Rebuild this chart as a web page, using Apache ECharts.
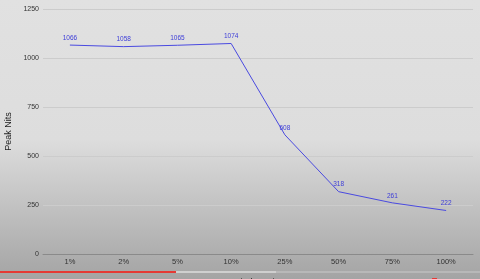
<!DOCTYPE html>
<html><head><meta charset="utf-8">
<script src="https://cdn.jsdelivr.net/npm/echarts@6/dist/echarts.min.js"></script>
<style>html,body{margin:0;padding:0;}#c{width:480px;height:279px;}</style>
</head><body><div id="c"></div>
<script>
const categories = ['1%', '2%', '5%', '10%', '25%', '50%', '75%', '100%'];
const peakNits = [1066, 1058, 1065, 1074, 608, 318, 261, 222];
const yTicks = [0, 250, 500, 750, 1000, 1250];

const FONT = 'Liberation Sans, Arial, sans-serif';
const chart = echarts.init(document.getElementById('c'));
chart.setOption({
  animation: false,
  backgroundColor: new echarts.graphic.LinearGradient(0, 0, 0, 1, [
    {offset: 0, color: '#e1e1e1'},
    {offset: 0.5, color: '#dddddd'},
    {offset: 1, color: '#a4a4a4'}
  ]),
  grid: {left: 43, right: 7, top: 9, bottom: 25, outerBoundsMode: 'none', containLabel: false},
  xAxis: {
    type: 'category',
    data: categories,
    name: 'Window Size',
    nameLocation: 'middle',
    nameGap: 24,
    nameTextStyle: {color: '#222', fontSize: 9, fontFamily: FONT},
    axisLine: {lineStyle: {color: '#8a8a8a'}},
    axisTick: {show: false},
    axisLabel: {color: '#333', fontSize: 7.5, margin: 4, fontFamily: FONT},
  },
  yAxis: {
    type: 'value',
    min: yTicks[0],
    max: yTicks[yTicks.length - 1],
    interval: 250,
    name: 'Peak Nits',
    nameLocation: 'middle',
    nameGap: 30,
    nameTextStyle: {color: '#222', fontSize: 9, fontFamily: FONT},
    axisLine: {show: false},
    axisTick: {show: false},
    axisLabel: {color: '#333', fontSize: 7, margin: 4, fontFamily: FONT, formatter: v => String(v)},
    splitLine: {lineStyle: {color: '#cccccc', width: 1}}
  },
  series: [{
    type: 'line',
    data: peakNits,
    symbol: 'circle',
    symbolSize: 1,
    showSymbol: true,
    itemStyle: {color: 'rgba(0,0,0,0)', borderWidth: 0},
    lineStyle: {color: '#4a4ae0', width: 1},
    label: {show: true, position: 'top', distance: 3, color: '#3d3dd8', fontSize: 6.5, fontFamily: FONT}
  }],
  graphic: [
    {type: 'rect', shape: {x: 0, y: 271, width: 480, height: 2}, style: {fill: '#b8b8b8'}},
    {type: 'rect', shape: {x: 176, y: 271, width: 100, height: 2}, style: {fill: '#cfcfcf'}},
    {type: 'rect', shape: {x: 0, y: 271, width: 176, height: 2}, style: {fill: '#e53935'}},
    {type: 'rect', shape: {x: 432, y: 278, width: 5, height: 1}, style: {fill: '#e53935'}}
  ]
});
</script></body></html>
